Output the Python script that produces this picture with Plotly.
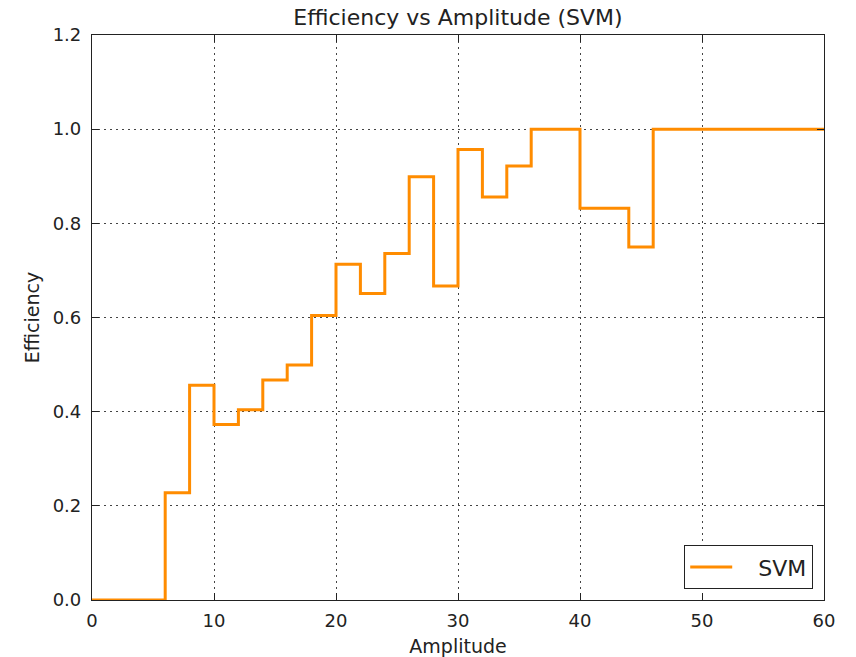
import plotly.graph_objects as go

bin_edges = [0, 6, 8, 10, 12, 14, 16, 18, 20, 22, 24, 26, 28, 30, 32, 34, 36, 40, 44, 46, 60]
efficiency = [0.0, 0.228, 0.456, 0.373, 0.404, 0.467, 0.499, 0.604, 0.713, 0.651,
              0.736, 0.899, 0.667, 0.957, 0.856, 0.922, 1.0, 0.832, 0.750, 1.0]

y_vals = efficiency + [efficiency[-1]]

fig = go.Figure()
fig.add_trace(go.Scatter(
    x=bin_edges, y=y_vals, mode="lines", name="\u00a0\u00a0\u00a0SVM",
    line=dict(shape="hv", color="#ff8c00", width=3),
))

axis_common = dict(
    showline=True, linecolor="#222222", linewidth=1.2, mirror="ticks",
    ticks="inside", ticklen=7, tickcolor="#222222", tickwidth=1,
    showgrid=True, gridcolor="#444444", gridwidth=1, griddash="1.5px,4.5px",
    zeroline=False, tickfont=dict(size=18, color="#222222"), automargin=False,
)

fig.update_layout(
    width=856, height=657,
    paper_bgcolor="white", plot_bgcolor="white",
    font=dict(family="DejaVu Sans", color="#222222"),
    margin=dict(l=92, r=32, t=35, b=57),
    title=dict(text="Efficiency vs Amplitude (SVM)", x=0.5, xref="paper", xanchor="center",
               y=1 - 17 / 657, yanchor="middle", font=dict(size=22), automargin=False),
    xaxis=dict(range=[0, 60], tickvals=[0, 10, 20, 30, 40, 50, 60],
               ticklabelstandoff=4,
               title=dict(text="Amplitude", font=dict(size=19), standoff=10), **axis_common),
    yaxis=dict(range=[0, 1.2], tickvals=[0, 0.2, 0.4, 0.6, 0.8, 1.0, 1.2],
               tickformat=".1f", ticklabelstandoff=6,
               title=dict(text="Efficiency", font=dict(size=19), standoff=8), **axis_common),
    legend=dict(x=0.985, y=0.0195, xanchor="right", yanchor="bottom",
                bgcolor="white", bordercolor="#222222", borderwidth=1.2,
                font=dict(size=22), itemwidth=42),
    showlegend=True,
)

fig.write_html("out.html")
